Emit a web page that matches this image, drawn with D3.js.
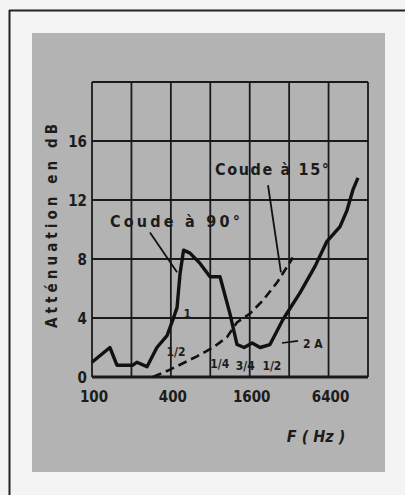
<!DOCTYPE html>
<html><head><meta charset="utf-8">
<style>
body { margin: 0; background: #f4f4f4; }
svg text { font-family: "DejaVu Sans Condensed", "DejaVu Sans", sans-serif; fill: #1c1c1c; }
</style></head>
<body>
<svg width="405" height="495"></svg>
<script src="https://d3js.org/d3.v7.min.js"></script>
<script>

// values (frequency Hz, attenuation dB)
var freqTicks = [100, 400, 1600, 6400];
var gridFreqs = [100, 200, 400, 800, 1600, 3200, 6400, 12800];
var dbTicks = [0, 4, 8, 12, 16];
var dbGrid = [0, 4, 8, 12, 16, 20];

var coude90Freq = [100, 137, 155, 205, 220, 263, 313, 374, 415, 446, 470, 500, 560, 668, 796, 949, 1130, 1280, 1450, 1670, 1920, 2285,
                   2870, 3870, 5040, 6220, 7830, 8850, 9830, 10730];
var coude90Db   = [1.0, 2.0, 0.8, 0.8, 1.0, 0.7, 2.0, 2.8, 3.9, 4.7, 7.0, 8.6, 8.4, 7.7, 6.8, 6.8, 4.3, 2.2, 2.0, 2.3, 2.0, 2.2,
                   3.9, 5.7, 7.5, 9.2, 10.2, 11.3, 12.7, 13.5];

var coude15Freq = [292, 394, 633, 839, 1073, 1279, 1608, 2020, 2585, 3420];
var coude15Db   = [0, 0.5, 1.4, 2.0, 2.7, 3.7, 4.3, 5.2, 6.4, 8.1];

var noteText = ["1", "1/2", "1/4", "3/4", "1/2", "2 A"];
var noteFreq = [500, 370, 800, 1250, 2000, 4080];
var noteDb   = [4.0, 1.4, 0.6, 0.5, 0.5, 2.0];

var svg = d3.select("svg");

// page frame and grey card
svg.append("rect").attr("x", 32).attr("y", 33).attr("width", 353).attr("height", 439).attr("fill", "#b3b3b3");
svg.append("line").attr("x1", 9).attr("y1", 10.5).attr("x2", 405).attr("y2", 10.5).attr("stroke", "#222").attr("stroke-width", 2);
svg.append("line").attr("x1", 9.5).attr("y1", 10).attr("x2", 9.5).attr("y2", 495).attr("stroke", "#222").attr("stroke-width", 2);

var x = d3.scaleLog().base(2).domain([100, 12800]).range([92, 368]),
    y = d3.scaleLinear().domain([0, 20]).range([377, 82]);

var g = svg.append("g");

g.selectAll(".vgrid").data(gridFreqs).enter().append("line")
    .attr("x1", function(d) { return x(d); }).attr("x2", function(d) { return x(d); })
    .attr("y1", y(0)).attr("y2", y(20))
    .attr("stroke", "#1a1a1a").attr("stroke-width", 1.8);

g.selectAll(".hgrid").data(dbGrid).enter().append("line")
    .attr("x1", x(100)).attr("x2", x(12800))
    .attr("y1", function(d) { return y(d); }).attr("y2", function(d) { return y(d); })
    .attr("stroke", "#1a1a1a").attr("stroke-width", function(d) { return d === 0 ? 3 : 1.8; });

// tick labels
g.selectAll(".ylab").data(dbTicks).enter().append("text")
    .attr("x", 87).attr("y", function(d) { return y(d) + 6; })
    .attr("text-anchor", "end").attr("font-size", 15).attr("font-weight", "bold")
    .text(function(d) { return d; });

g.selectAll(".xlab").data(freqTicks).enter().append("text")
    .attr("x", function(d) { return x(d) + 2; }).attr("y", 402)
    .attr("text-anchor", "middle").attr("font-size", 15).attr("font-weight", "bold")
    .text(function(d) { return d; });

svg.append("text")
    .attr("transform", "translate(57,226) rotate(-90)")
    .attr("text-anchor", "middle").attr("font-size", 15).attr("font-weight", "bold")
    .attr("textLength", 204).attr("lengthAdjust", "spacing")
    .text("Atténuation en dB");

svg.append("text")
    .attr("x", 316).attr("y", 442).attr("text-anchor", "middle")
    .attr("font-size", 16).attr("font-style", "italic").attr("font-weight", "bold")
    .text("F ( Hz )");

// curves
var line = d3.line().x(function(d) { return x(d[0]); }).y(function(d) { return y(d[1]); });

g.append("path")
    .datum(d3.zip(coude90Freq, coude90Db))
    .attr("d", line).attr("fill", "none")
    .attr("stroke", "#111").attr("stroke-width", 3.4).attr("stroke-linejoin", "round");

g.append("path")
    .datum(d3.zip(coude15Freq, coude15Db))
    .attr("d", line).attr("fill", "none")
    .attr("stroke", "#111").attr("stroke-width", 2.6).attr("stroke-dasharray", "9,5");

// labels on the curves
g.selectAll(".note").data(d3.range(noteText.length)).enter().append("text")
    .attr("x", function(i) { return x(noteFreq[i]); })
    .attr("y", function(i) { return y(noteDb[i]); })
    .attr("font-size", 12).attr("font-weight", "bold")
    .text(function(i) { return noteText[i]; });

g.append("line").attr("x1", x(2820)).attr("y1", y(2.3)).attr("x2", x(3740)).attr("y2", y(2.45))
    .attr("stroke", "#111").attr("stroke-width", 1.6);

// annotations
svg.append("text").attr("x", x(137)).attr("y", y(10.2)).attr("font-size", 16).attr("font-weight", "bold")
    .attr("textLength", 130).attr("lengthAdjust", "spacing").text("Coude à 90°");
svg.append("line").attr("x1", x(277)).attr("y1", y(9.8)).attr("x2", x(446)).attr("y2", y(7.1))
    .attr("stroke", "#111").attr("stroke-width", 1.8);

svg.append("text").attr("x", x(869)).attr("y", y(13.7)).attr("font-size", 16).attr("font-weight", "bold")
    .attr("textLength", 114).attr("lengthAdjust", "spacing").text("Coude à 15°");
svg.append("line").attr("x1", x(2207)).attr("y1", y(13.0)).attr("x2", x(2770)).attr("y2", y(7.1))
    .attr("stroke", "#111").attr("stroke-width", 1.8);

</script>
</body></html>
